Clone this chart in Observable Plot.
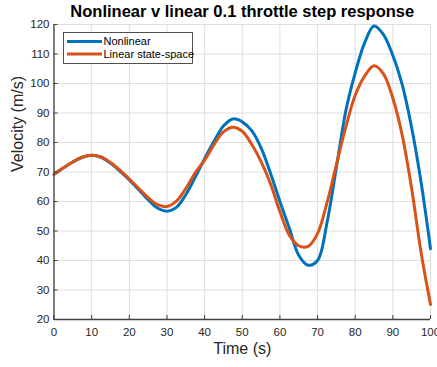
<!DOCTYPE html>
<html><head><meta charset="utf-8">
<script src="https://cdn.jsdelivr.net/npm/d3@7"></script>
<script src="https://cdn.jsdelivr.net/npm/@observablehq/plot@0.6"></script>
<style>body{margin:0;background:#fff;} svg{display:block;}</style>
</head><body><div id="chart"></div>
<script>
const title = "Nonlinear v linear 0.1 throttle step response";
const xLabel = "Time (s)";
const yLabel = "Velocity (m/s)";
const seriesNames = ["Nonlinear", "Linear state-space"];
const seriesColors = ["#0072BD", "#D95319"];
const xTicks = [0, 10, 20, 30, 40, 50, 60, 70, 80, 90, 100];
const yTicks = [20, 30, 40, 50, 60, 70, 80, 90, 100, 110, 120];
const time = [0,2.5,5,7.5,10,12.5,15,17.5,20,22.5,25,27.5,30,32.5,35,37.5,40,42.5,45,47.5,50,52.5,55,57.5,60,62.5,65,67.5,70,72.5,75,77.5,80,82.5,85,87.5,90,92.5,95,97.5,100];
const nonlinear = [69.2,71.4,73.4,75.0,75.7,75.0,73.0,70.3,67.3,64.0,60.6,57.8,56.7,58.0,62.3,68.2,74.5,80.4,85.6,88.0,87.0,84.0,78.2,69.6,60.0,51.0,41.8,38.4,40.0,52.7,71.5,90.7,103.6,113.8,119.5,116.6,109.5,99.5,85.0,66.5,44.0];
const linear = [69.2,71.4,73.4,75.0,75.7,75.1,73.2,70.6,67.6,64.4,61.3,58.9,58.3,60.1,64.4,69.7,74.0,79.3,83.6,85.2,83.8,79.4,73.5,66.0,56.6,48.6,45.0,44.8,49.1,59.5,72.5,85.2,96.0,102.5,106.0,103.3,95.0,82.4,64.3,42.7,25.1];

const rows = [];
[nonlinear, linear].forEach((vals, k) => time.forEach((t, i) => rows.push({t, v: vals[i], s: seriesNames[k]})));

const font = "'Liberation Sans', Arial, Helvetica, sans-serif";
const svg = Plot.plot({
  width: 437, height: 367,
  marginLeft: 53.5, marginRight: 7, marginTop: 24, marginBottom: 48,
  style: {fontFamily: font, fontSize: "11.5px", color: "#262626", background: "#fff", overflow: "visible"},
  x: {domain: [0, 100]},
  y: {domain: [20, 120]},
  color: {domain: seriesNames, range: seriesColors},
  marks: [
    Plot.gridX(xTicks, {stroke: "#dedede", strokeOpacity: 1}),
    Plot.gridY(yTicks, {stroke: "#dedede", strokeOpacity: 1}),
    Plot.line(rows, {x: "t", y: "v", stroke: "s", z: "s", strokeWidth: 3, curve: "catmull-rom"}),
    Plot.axisX(xTicks, {tickSize: -4, tickPadding: 12.5, label: null, stroke: "#404040", fill: "#262626"}),
    Plot.axisY(yTicks, {tickSize: -4, tickPadding: 8.5, label: null, stroke: "#404040", fill: "#262626"}),
    Plot.ruleX([0], {stroke: "#404040", strokeWidth: 1.3}),
    Plot.ruleY([20], {stroke: "#404040", strokeWidth: 1.3}),
    Plot.text([title], {frameAnchor: "top", lineAnchor: "top", dy: -19, fontSize: 16.5, fontWeight: "bold", fill: "#000"}),
    Plot.text([xLabel], {frameAnchor: "bottom", lineAnchor: "bottom", dy: 34.5, fontSize: 16, fill: "#262626"}),
    Plot.text([yLabel], {frameAnchor: "left", lineAnchor: "middle", dx: -36, rotate: -90, fontSize: 16, fill: "#262626"})
  ]
});
document.getElementById("chart").appendChild(svg);

// legend box
const lg = d3.select(svg).append("g").attr("font-family", font).attr("font-size", 11).attr("text-anchor", "start");
lg.append("rect").attr("x", 63.5).attr("y", 32.5).attr("width", 129).attr("height", 31)
  .attr("fill", "#fff").attr("stroke", "#262626").attr("stroke-width", 0.8);
seriesNames.forEach((name, i) => {
  const yy = 41.5 + i * 12.5;
  lg.append("line").attr("x1", 67).attr("x2", 102).attr("y1", yy).attr("y2", yy)
    .attr("stroke", seriesColors[i]).attr("stroke-width", 3);
  lg.append("text").attr("x", 103.5).attr("y", yy).attr("dy", "0.35em")
    .attr("text-anchor", "start").attr("fill", "#000").text(name);
});
</script>
</body></html>
